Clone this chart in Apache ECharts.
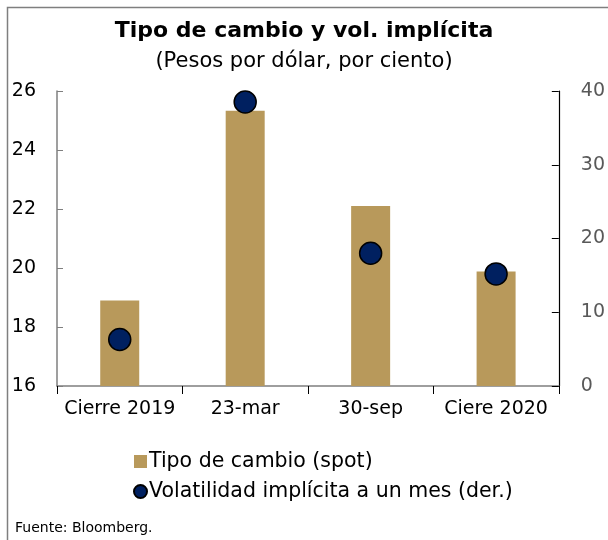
<!DOCTYPE html>
<html>
<head>
<meta charset="utf-8">
<script src="https://cdn.jsdelivr.net/npm/echarts@6/dist/echarts.min.js"></script>
<style>
	html, body { margin: 0; padding: 0; background: #fff; }
	#chart { width: 608px; height: 540px; }
</style>
</head>
<body>
<div id="chart"></div>
<script>
	// datos
	var categorias = ['Cierre 2019', '23-mar', '30-sep', 'Ciere 2020'];
	var tipoCambio = [18.9, 25.33, 22.1, 19.88];
	var volatilidad = [6.3, 38.5, 18.0, 15.2];
	var ticksIzq = {min: 16, max: 26, interval: 2};
	var ticksDer = {min: 0, max: 40, interval: 10};

	var fuente = '"DejaVu Sans", "Open Sans", sans-serif';
	var myChart = echarts.init(document.getElementById('chart'));
	var option = {
		backgroundColor: '#fff',
		textStyle: {fontFamily: fuente},
		title: [
			{
				text: 'Tipo de cambio y vol. implícita',
				left: 'center',
				top: 15,
				textStyle: {fontSize: 22, fontWeight: 'bold', color: '#000', fontFamily: fuente}
			},
			{
				text: '(Pesos por dólar, por ciento)',
				left: 'center',
				top: 46,
				textStyle: {fontSize: 21, fontWeight: 'normal', color: '#000', fontFamily: fuente}
			},
			{
				text: 'Fuente: Bloomberg.',
				left: 10,
				top: 516,
				textStyle: {fontSize: 14, fontWeight: 'normal', color: '#000', fontFamily: fuente}
			}
		],
		graphic: [
			{
				type: 'rect',
				left: 5,
				top: 5,
				shape: {width: 620, height: 560},
				style: {fill: 'none', stroke: '#7f7f7f', lineWidth: 1.5},
				silent: true
			}
		],
		legend: {
			orient: 'vertical',
			left: 128,
			top: 446,
			itemGap: 9,
			itemWidth: 13,
			itemHeight: 13,
			textStyle: {fontSize: 20.5, color: '#000', fontFamily: fuente, padding: [0, 0, 0, -3]},
			data: [
				{name: 'Tipo de cambio (spot)', icon: 'rect'},
				{name: 'Volatilidad implícita a un mes (der.)', icon: 'circle'}
			]
		},
		grid: {left: 57, right: 48, top: 91, bottom: 154},
		xAxis: {
			type: 'category',
			data: categorias,
			axisLine: {lineStyle: {color: '#7f7f7f', width: 1.5}},
			axisTick: {show: true, length: 8, lineStyle: {color: '#000'}},
			axisLabel: {interval: 0, fontSize: 19, color: '#000', margin: 14, fontFamily: fuente}
		},
		yAxis: [
			{
				type: 'value',
				min: ticksIzq.min,
				max: ticksIzq.max,
				interval: ticksIzq.interval,
				splitLine: {show: false},
				axisLine: {show: true, lineStyle: {color: '#7f7f7f', width: 1.5}},
				axisTick: {show: true, inside: true, length: 6, lineStyle: {color: '#7f7f7f'}},
				axisLabel: {fontSize: 19, color: '#000', margin: 21, fontFamily: fuente}
			},
			{
				type: 'value',
				min: ticksDer.min,
				max: ticksDer.max,
				interval: ticksDer.interval,
				splitLine: {show: false},
				axisLine: {show: true, lineStyle: {color: '#000', width: 1.2}},
				axisTick: {show: true, inside: true, length: 7, lineStyle: {color: '#000'}},
				axisLabel: {fontSize: 19, color: '#595959', margin: 22, fontFamily: fuente}
			}
		],
		series: [
			{
				name: 'Tipo de cambio (spot)',
				type: 'bar',
				yAxisIndex: 0,
				barWidth: 39,
				itemStyle: {color: '#b8995b'},
				data: tipoCambio
			},
			{
				name: 'Volatilidad implícita a un mes (der.)',
				type: 'scatter',
				yAxisIndex: 1,
				symbolSize: 22,
				itemStyle: {color: '#002060', borderColor: '#000', borderWidth: 1.5, opacity: 1},
				data: volatilidad,
				z: 5
			}
		]
	};

	myChart.setOption(option);
</script>
</body>
</html>
